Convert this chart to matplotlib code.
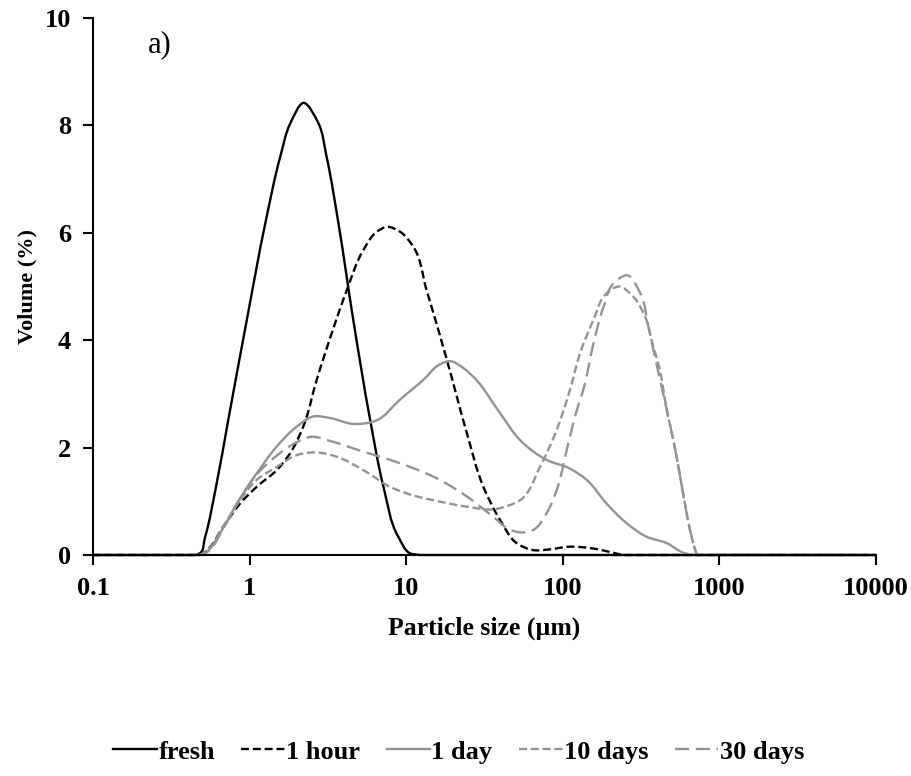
import numpy as np
import matplotlib
matplotlib.use("Agg")
import matplotlib.pyplot as plt
from matplotlib.path import Path
from matplotlib.patches import PathPatch
from matplotlib.lines import Line2D
from matplotlib.ticker import FixedLocator, FixedFormatter, NullLocator

plt.rcParams['font.family'] = ['Liberation Serif', 'DejaVu Serif']

# Particle size distributions (size in µm, volume in %)
fresh_size = [0.1, 0.45, 0.48, 0.52, 0.61, 0.73, 0.96, 1.26, 1.57, 1.82, 2.21,
              2.75, 3.10, 3.69, 4.59, 5.89, 7.16, 8.9, 10.6, 12.2, 10000]
fresh_vol = [0, 0, 0.03, 0.34, 1.27, 2.51, 4.38, 6.18, 7.42, 8.04, 8.42,
             8.04, 7.42, 6.18, 4.38, 2.51, 1.27, 0.34, 0.03, 0, 0]

hour_size = [0.1, 0.48, 0.53, 0.68, 0.87, 1.11, 1.49, 1.81, 2.2, 2.68, 3.5, 4.17, 5.33,
             6.49, 7.51, 9.14, 11.1, 13.5, 18.2, 24.4, 31.1, 39.8, 50.8, 65, 80,
             111, 157, 211, 240, 10000]
hour_vol = [0, 0, 0.08, 0.53, 0.96, 1.27, 1.58, 1.89, 2.39, 3.26, 4.3, 4.93, 5.68,
            6.02, 6.11, 6.02, 5.74, 4.93, 3.63, 2.27, 1.27, 0.65, 0.22, 0.09, 0.1,
            0.155, 0.12, 0.04, 0, 0]

day1_size = [0.1, 0.48, 0.53, 0.645, 0.83, 1.11, 1.49, 2.0, 2.55, 3.27, 4.6, 6.5, 9.1,
             13.5, 15.6, 19.1, 23.2, 26.8, 39.8, 53.3, 78.9, 111, 142, 190, 256, 343,
             462, 591, 683, 10000]
day1_vol = [0, 0, 0.06, 0.40, 0.96, 1.52, 2.02, 2.39, 2.58, 2.55, 2.44, 2.51, 2.89,
            3.32, 3.51, 3.61, 3.48, 3.32, 2.64, 2.14, 1.77, 1.61, 1.40, 0.96, 0.59, 0.34,
            0.22, 0.04, 0, 0]

day10_size = [0.1, 0.48, 0.53, 0.68, 0.87, 1.11, 1.49, 2.0, 2.68, 3.6, 5.33, 7.88, 11.7,
              14.9, 24.4, 36, 46, 53.3, 71.5, 91.4, 111, 129, 157, 190, 228, 282,
              335, 378, 417, 449, 533, 591, 649, 720, 10000]
day10_vol = [0, 0, 0.07, 0.53, 1.02, 1.40, 1.64, 1.86, 1.91, 1.83, 1.58, 1.27, 1.09,
             1.02, 0.90, 0.85, 0.93, 1.02, 1.64, 2.33, 3.07, 3.76, 4.38, 4.87, 5.0, 4.81,
             4.44, 3.88, 3.45, 2.89, 1.83, 1.09, 0.47, 0, 0]

day30_size = [0.1, 0.5, 0.55, 0.68, 0.87, 1.11, 1.49, 2.0, 2.45, 3.3, 5.0, 9.1, 14.9,
              24.4, 36, 46, 56, 65, 78.9, 91.4, 106, 123, 135, 157, 182, 211, 256,
              313, 352, 388, 428, 533, 591, 649, 720, 10000]
day30_vol = [0, 0, 0.08, 0.5, 1.05, 1.5, 1.85, 2.1, 2.2, 2.12, 1.95, 1.71, 1.46,
             1.09, 0.71, 0.47, 0.42, 0.47, 0.78, 1.21, 1.96, 2.70, 3.07, 3.94, 4.62, 5.06, 5.21,
             4.87, 4.25, 3.69, 3.13, 1.83, 1.09, 0.47, 0, 0]

series_labels = ["fresh", "1 hour", "1 day", "10 days", "30 days"]

x_ticks = [0.1, 1, 10, 100, 1000, 10000]
x_tick_labels = ["0.1", "1", "10", "100", "1000", "10000"]
y_ticks = [0, 2, 4, 6, 8, 10]

gray = "#939393"
LW = 1.7
styles = [
    dict(color="black", ls="solid"),
    dict(color="black", ls=(0, (3.4, 1.6))),
    dict(color=gray, ls="solid"),
    dict(color=gray, ls=(0, (3.4, 1.6))),
    dict(color=gray, ls=(0, (6.0, 2.8))),
]

# roughly isotropic scaling (pixels per decade / per % volume) for the smoothing
SX, SY = 156.6, 53.7


def smoothed_path(xs, ys):
    """Smoothed-line path through the measured points (cubic Bezier segments)."""
    u = np.log10(np.asarray(xs, float)) * SX
    v = np.asarray(ys, float) * SY
    P = np.column_stack([u, v])
    n = len(P)
    seg = np.diff(P, axis=0)
    d = np.hypot(seg[:, 0], seg[:, 1])
    M = np.zeros_like(P)
    M[0] = seg[0] / d[0]
    M[-1] = seg[-1] / d[-1]
    for i in range(1, n - 1):
        d0, d1 = d[i - 1], d[i]
        M[i] = (seg[i - 1] / d0 * d1 + seg[i] / d1 * d0) / (d0 + d1)
    verts = [P[0]]
    codes = [Path.MOVETO]
    for i in range(n - 1):
        c1 = P[i] + M[i] * d[i] / 3
        c2 = P[i + 1] - M[i + 1] * d[i] / 3
        c1[1] = max(c1[1], 0)
        c2[1] = max(c2[1], 0)
        verts += [c1, c2, P[i + 1]]
        codes += [Path.CURVE4] * 3
    V = np.array(verts)
    data = np.column_stack([10 ** (V[:, 0] / SX), V[:, 1] / SY])
    return Path(data, codes)


fig = plt.figure(figsize=(9.12, 7.76), dpi=100)
ax = fig.add_axes([0.102, 0.2848, 0.8585, 0.692])
ax.set_xscale("log")
ax.set_xlim(0.1, 10000)
ax.set_ylim(0, 10)

all_series = [(fresh_size, fresh_vol), (hour_size, hour_vol), (day1_size, day1_vol),
              (day10_size, day10_vol), (day30_size, day30_vol)]
handles = []
for (xs, ys), st, lab in zip(all_series, styles, series_labels):
    patch = PathPatch(smoothed_path(xs, ys), fill=False, edgecolor=st["color"],
                      linewidth=LW, linestyle=st["ls"], capstyle="butt",
                      joinstyle="round", clip_on=False)
    ax.add_patch(patch)
    handles.append(Line2D([], [], color=st["color"], lw=LW, linestyle=st["ls"],
                          label=lab))

ax.xaxis.set_major_locator(FixedLocator(x_ticks))
ax.xaxis.set_major_formatter(FixedFormatter(x_tick_labels))
ax.xaxis.set_minor_locator(NullLocator())
ax.set_yticks(y_ticks)
ax.set_yticklabels([str(v) for v in y_ticks])

for s in ("top", "right"):
    ax.spines[s].set_visible(False)
for s in ("left", "bottom"):
    ax.spines[s].set_linewidth(1.5)

ax.tick_params(axis="both", direction="out", length=7, width=1.5,
               labelsize=19, pad=9)
for lbl in ax.get_xticklabels() + ax.get_yticklabels():
    lbl.set_fontweight("bold")

ax.set_xlabel("Particle size (µm)", fontsize=18.5, fontweight="bold", labelpad=12)
ax.set_ylabel("Volume (%)", fontsize=16, fontweight="bold", labelpad=5)

ax.text(0.07, 0.95, "a)", transform=ax.transAxes, fontsize=22, ha="left", va="center")

fig.legend(handles=handles, loc="center", bbox_to_anchor=(0.503, 0.031), ncol=5,
           frameon=False, prop={"size": 19, "weight": "bold"}, handlelength=1.65,
           handletextpad=0.05, columnspacing=1.0)

fig.savefig("out.png", dpi=100)
